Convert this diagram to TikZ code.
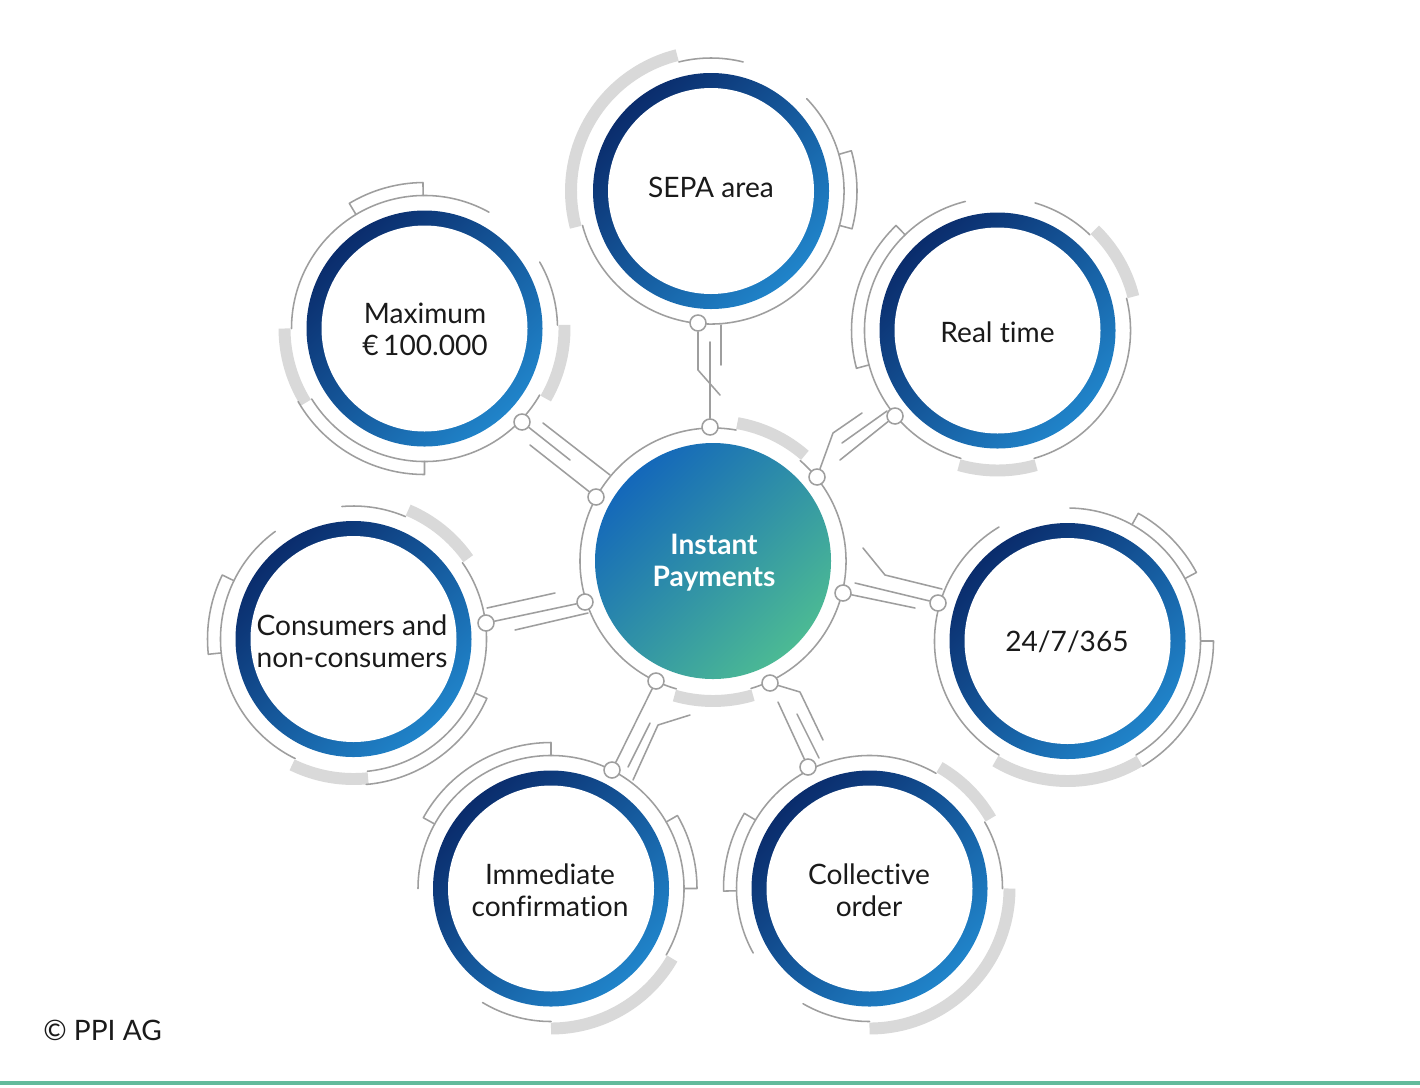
\documentclass[tikz,border=0pt]{standalone}
\usepackage{fontspec}
\setmainfont{Lato}[Ligatures={NoCommon}]
\definecolor{lg}{HTML}{9E9E9E}
\definecolor{ga}{HTML}{D9D9D9}
\definecolor{navy}{HTML}{0A2C6C}
\definecolor{lblue}{HTML}{2084CA}
\definecolor{cblue}{HTML}{1468BA}
\definecolor{cgreen}{HTML}{4CBA94}
\definecolor{ppigreen}{HTML}{63BB9C}
\definecolor{txt}{HTML}{1A1A1A}
\tikzset{
  wire/.style={draw=lg,line width=1.1pt,line cap=round,line join=round},
  grayband/.style={draw=ga,line width=8.5pt},
  dot/.style={circle,draw=lg,fill=white,line width=1.1pt,minimum size=0.4cm,inner sep=0pt},
  lbl/.style={align=center,text=txt,font=\fontsize{20}{22.7}\selectfont,inner sep=0pt},
  clbl/.style={align=center,text=white,font=\fontsize{20}{22.7}\selectfont\bfseries,inner sep=0pt},
}
\newcommand\ringarc[4]{\draw[wire] ([shift={(#2:#4)}]#1) arc[start angle=#2,end angle=#3,radius=#4];}
\newcommand\band[3]{\draw[grayband] ([shift={(#2:140)}]#1) arc[start angle=#2,end angle=#3,radius=140];}
\newcommand\bracketA[3]{\draw[wire] ([shift={(#2:133)}]#1) -- ([shift={(#2:146)}]#1) arc[start angle=#2,end angle=#3,radius=146] -- ([shift={(#3:133)}]#1);}
\newcommand\bracketB[3]{\draw[wire] ([shift={(#2:133)}]#1) -- ([shift={(#2:146)}]#1) arc[start angle=#2,end angle=#3,radius=146];}
\newcommand\bluering[1]{\shade[left color=navy,right color=lblue,shading angle=45] (#1) circle[radius=118];
  \fill[white] (#1) circle[radius=103];}
\begin{document}
\begin{tikzpicture}[x=0.025cm,y=0.025cm]
\useasboundingbox (0,0) rectangle (1420,-1087);
\fill[white] (0,0) rectangle (1420,-1087);
% centres
\coordinate (ctr) at (713,-561);
\coordinate (sepa) at (711,-191);
\coordinate (maxi) at (424.5,-328.5);
\coordinate (real) at (997.5,-330.5);
\coordinate (tfs) at (1067.5,-641);
\coordinate (cons) at (353.5,-639);
\coordinate (imme) at (551,-888.5);
\coordinate (coll) at (869.5,-888.5);
% thin rings
\ringarc{ctr}{80}{254}{133}\ringarc{ctr}{286.6}{409}{133}
\ringarc{sepa}{-165}{44}{133}\ringarc{sepa}{76}{104}{133}
\ringarc{maxi}{-148}{-30}{133}\ringarc{maxi}{1.5}{30}{133}\ringarc{maxi}{61}{180}{133}
\ringarc{real}{-74}{14}{133}\ringarc{real}{46}{73.6}{133}\ringarc{real}{104}{254}{133}
\ringarc{tfs}{-59}{89}{133}\ringarc{tfs}{121}{239}{133}
\ringarc{cons}{-84}{35}{133}\ringarc{cons}{67}{95}{133}\ringarc{cons}{126}{244}{133}
\ringarc{imme}{-30}{180}{133}\ringarc{imme}{239}{270}{133}
\ringarc{coll}{0}{30}{133}\ringarc{coll}{60}{209}{133}\ringarc{coll}{240}{270}{133}
% gray bands
\band{ctr}{49}{80}\band{ctr}{254}{286.6}
\band{sepa}{104}{195}
\band{maxi}{180}{212}\band{maxi}{-30}{1.5}
\band{real}{14}{46}\band{real}{254}{286}
\band{tfs}{239}{301}
\band{cons}{35}{67}\band{cons}{244}{276}
\band{imme}{-90}{-30}
\band{coll}{30}{60}\band{coll}{-90}{0}
% brackets
\bracketA{sepa}{16}{-15}
\bracketA{maxi}{90.6}{121}\bracketB{maxi}{270}{210}
\bracketA{real}{134}{195}
\bracketA{tfs}{28}{61}\bracketB{tfs}{0}{-59}
\bracketA{cons}{154}{186}\bracketB{cons}{-24}{-85}
\bracketA{imme}{90}{151}\bracketA{imme}{0}{30}
\bracketA{coll}{149}{181}
% junction dots
\node[dot] (sA) at (698,-323) {};
\node[dot] (cB) at (710,-427) {};
\node[dot] (mA) at (522,-422) {};
\node[dot] (cA) at (596,-497) {};
\node[dot] (rA) at (895,-416) {};
\node[dot] (cC) at (817,-477) {};
\node[dot] (tA) at (938,-603) {};
\node[dot] (cD) at (843,-593) {};
\node[dot] (kA) at (486,-623) {};
\node[dot] (cE) at (585,-602) {};
\node[dot] (iA) at (612,-770) {};
\node[dot] (cF) at (656,-681) {};
\node[dot] (lA) at (808,-767) {};
\node[dot] (cG) at (770,-683) {};
% circuit wires
\draw[wire] (sA) -- (698,-370) -- (720,-395);
\draw[wire] (710,-342) -- (cB);
\draw[wire] (721,-325) -- (721,-365);
\draw[wire] (mA) -- (570,-460);
\draw[wire] (530,-445) -- (cA);
\draw[wire] (543,-423) -- (610,-475);
\draw[wire] (cC) -- (833,-433) -- (862,-413);
\draw[wire] (842,-443) -- (887,-411);
\draw[wire] (rA) -- (840,-460);
\draw[wire] (863,-548) -- (885,-575) -- (942,-589);
\draw[wire] (cD) -- (915,-608);
\draw[wire] (tA) -- (855,-583);
\draw[wire] (487,-608) -- (555,-593);
\draw[wire] (kA) -- (cE);
\draw[wire] (515,-630) -- (588,-613);
\draw[wire] (cF) -- (iA);
\draw[wire] (650,-723) -- (628,-767);
\draw[wire] (690,-715) -- (658,-725) -- (633,-780);
\draw[wire] (cG) -- (800,-692) -- (823,-740);
\draw[wire] (778,-702) -- (lA);
\draw[wire] (797,-714) -- (819,-758);
% blue rings
\bluering{sepa}\bluering{maxi}\bluering{real}\bluering{tfs}
\bluering{cons}\bluering{imme}\bluering{coll}
% centre disc
\shade[left color=cblue,right color=cgreen,shading angle=45] (ctr) circle[radius=118];
% labels
\node[clbl] (tctr) at (714,-563) {Instant\\Payments};
\node[lbl] (tsepa) at (711,-187) {SEPA area};
\node[lbl] (tmaxi) at (425,-329) {Maximum\\€\,100.000};
\node[lbl] (treal) at (997.5,-332) {Real time};
\node[lbl] (ttfs) at (1067,-642) {24/7/365};
\node[lbl] (tcons) at (352,-641) {Consumers and\\non-consumers};
\node[lbl] (timme) at (550,-890) {Immediate\\confirmation};
\node[lbl] (tcoll) at (869,-890) {Collective\\order};
\node[lbl,anchor=west] (copy) at (43,-1030) {© PPI AG};
% bottom rule
\coordinate (rl) at (0,-1083);
\coordinate (rr) at (1420,-1083);
\draw[ppigreen,line width=2.2pt] (rl) -- (rr);
\end{tikzpicture}
\end{document}
